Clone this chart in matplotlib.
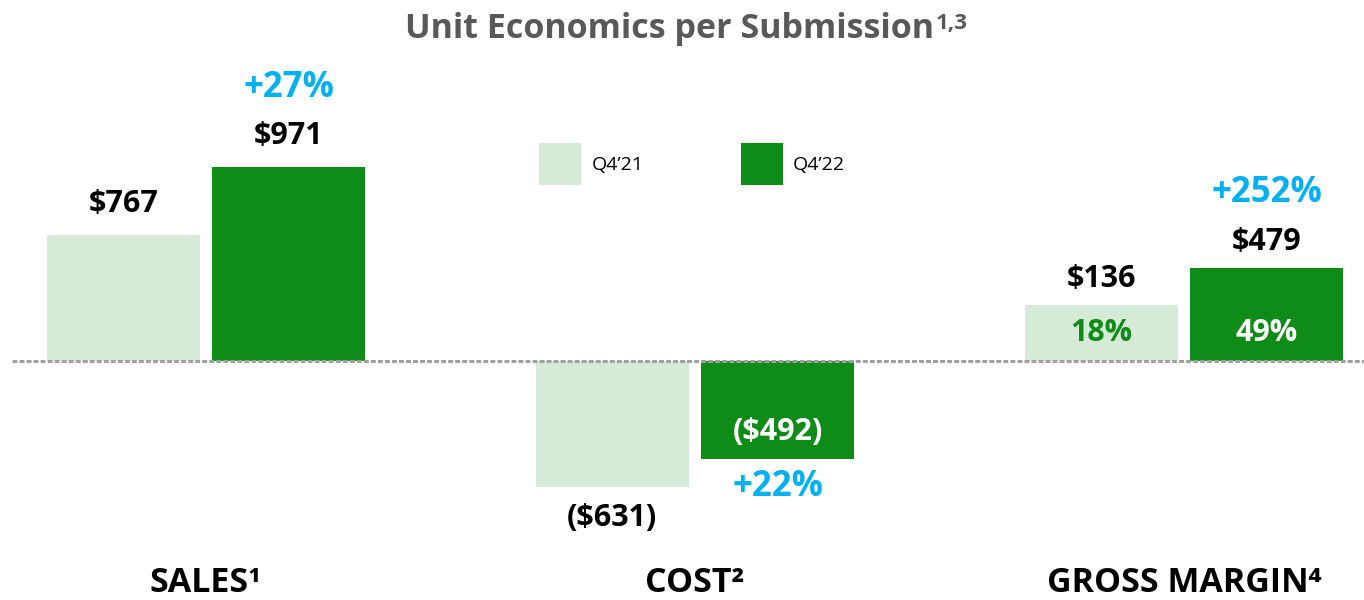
import matplotlib
matplotlib.use("Agg")
import matplotlib.pyplot as plt
import numpy as np

# --- DATA ---
categories = ["SALES¹", "COST²", "GROSS MARGIN⁴"]
series_names = ["Q4’21", "Q4’22"]

# values printed on the chart
q421_values = [767, -631, 136]
q422_values = [971, -492, 479]
# bar heights as drawn in the reference (the slide is not fully to scale)
q421_heights = [630, -631, 280]
q422_heights = [971, -492, 465]

growth_labels = ["+27%", "+22%", "+252%"]
margin_labels = ["18%", "49%"]

# --- STYLE ---
light = "#D5EAD7"
dark = "#0E8C17"
cyan = "#00B0F0"
font = ["Open Sans", "DejaVu Sans"]
plt.rcParams["font.family"] = font


def money(v):
    return f"${v:,}" if v >= 0 else f"(${-v:,})"


fig = plt.figure(figsize=(13.64, 6), dpi=100)
ax = fig.add_axes([0, 0, 1, 1])
ax.set_xlim(-0.421, 2.368)
ax.set_ylim(-1195, 1805)
ax.axis("off")

x = np.arange(len(categories))
off = 0.169
w = 0.313

b1 = ax.bar(x - off, q421_heights, w, color=light, label=series_names[0], zorder=2)
b2 = ax.bar(x + off, q422_heights, w, color=dark, label=series_names[1], zorder=2)

# dashed zero line
ax.plot([-0.397, 2.368], [0, 0], color="#A0A0A0", lw=2.2,
        dashes=(1.6, 0.7), zorder=3, solid_capstyle="butt")

lbl = dict(ha="center", va="center", fontsize=22, fontweight="bold",
           textcoords="offset points")

# value labels above the positive bars
for i in range(len(categories)):
    for xi, h, v in [(x[i] - off, q421_heights[i], q421_values[i]),
                     (x[i] + off, q422_heights[i], q422_values[i])]:
        if v > 0:
            ax.annotate(money(v), (xi, h), xytext=(0, 19 if i == 2 else 22),
                        color="black", **lbl)

# cost labels
ax.annotate(money(q421_values[1]), (x[1] - off, q421_heights[1]),
            xytext=(0, -22), color="black", **lbl)
ax.annotate(money(q422_values[1]), (x[1] + off, q422_heights[1]),
            xytext=(0, 20), color="white", **lbl)

# margin % inside GM bars
ax.annotate(margin_labels[0], (x[2] - off, 0), xytext=(0, 20), color=dark, **lbl)
ax.annotate(margin_labels[1], (x[2] + off, 0), xytext=(0, 20), color="white", **lbl)

# growth labels
pct = dict(lbl, fontsize=25)
ax.annotate(growth_labels[0], (x[0] + off, q422_heights[0]), xytext=(0, 57), color=cyan, **pct)
ax.annotate(growth_labels[1], (x[1] + off, q422_heights[1]), xytext=(0, -20), color=cyan, **pct)
ax.annotate(growth_labels[2], (x[2] + off, q422_heights[2]), xytext=(0, 54), color=cyan, **pct)

# category labels
for xi, c in zip(x, categories):
    ax.text(xi, -1108, c, ha="center", va="center", fontsize=24.5,
            fontweight="bold", color="black")

# title
t = fig.text(0.491, 0.952, "Unit Economics per Submission", ha="center", va="center",
             fontsize=24.5, fontweight="bold", color="#595959")
ax.annotate("1,3", xy=(1, 1), xycoords=t, xytext=(1, -1), textcoords="offset points",
            ha="left", va="top", fontsize=16, fontweight="bold", color="#595959")

# legend
ax.legend(handles=[b1, b2], loc="center left", bbox_to_anchor=(539 / 1364, 1 - 164 / 600),
          bbox_transform=fig.transFigure, ncol=2, frameon=False, fontsize=14,
          handlelength=2.15, handleheight=2.9, handletextpad=0.55, columnspacing=5.0,
          borderpad=0, borderaxespad=0)

fig.savefig("out.png", dpi=100)
